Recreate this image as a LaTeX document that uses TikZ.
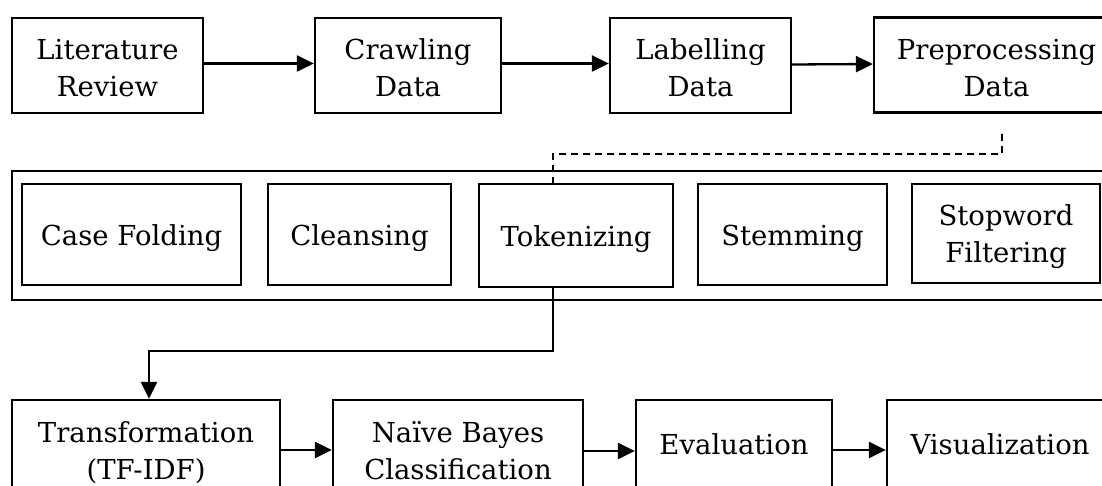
\documentclass[tikz,border=0pt]{standalone}
\usepackage{fontspec}
\newfontfamily\boxfont{DejaVu Serif}
\usetikzlibrary{arrows.meta}
% invisible strut: height #1 above and depth #2 below the baseline
\newcommand\boxstrut[2]{\rule[-#2]{0pt}{\dimexpr #1+#2\relax}}
\tikzset{
  box/.style={draw, line width=2.3pt, rectangle, inner sep=0pt, align=center,
              font=\boxfont\fontsize{27.5}{37}\selectfont},
  frame/.style={draw, line width=2.3pt, rectangle, inner sep=0pt},
  link/.style={line width=2.3pt, -{Triangle[length=17pt,width=16pt]}},
  dashlink/.style={line width=1.4pt, dash pattern=on 7pt off 5pt},
}
\begin{document}
\begin{tikzpicture}[x=1pt, y=-1pt]
\useasboundingbox (0,0) rectangle (1102,486);
\clip (0,0) rectangle (1102,486);

% top row
\node[box, minimum width=191pt, minimum height=95pt] (lit)   at (107.5,65.5)
  {\boxstrut{30pt}{0pt}Literature\\Review\boxstrut{0pt}{4pt}};
\node[box, minimum width=186pt, minimum height=95pt] (crawl) at (408,65.5)
  {\boxstrut{30pt}{0pt}Crawling\\Data\boxstrut{0pt}{4pt}};
\node[box, minimum width=181pt, minimum height=95pt] (lab)   at (700.5,65.5)
  {\boxstrut{30pt}{0pt}Labelling\\Data\boxstrut{0pt}{4pt}};
\node[box, minimum width=245pt, minimum height=95pt] (pre)   at (996.5,65)
  {\boxstrut{30pt}{0pt}Preprocessing\\Data\boxstrut{0pt}{4pt}};

\draw[link] ([yshift=2pt]lit.east)   -- ([yshift=2pt]crawl.west);
\draw[link] ([yshift=2pt]crawl.east) -- ([yshift=2pt]lab.west);
\draw[link] ([yshift=1pt]lab.east)   -- ([yshift=1pt]pre.west);

% preprocessing steps inside one frame
\node[frame, minimum width=1118pt, minimum height=129pt] (steps) at (571,235.5) {};
\node[box, minimum width=219pt, minimum height=101pt] (cf)   at (131.5,234.5)
  {\boxstrut{30pt}{7pt}Case Folding};
\node[box, minimum width=183pt, minimum height=101pt] (cl)   at (359.5,234.5)
  {\boxstrut{30pt}{7pt}Cleansing};
\node[box, minimum width=194pt, minimum height=103pt] (tok)  at (576,235.5)
  {\boxstrut{30pt}{8pt}Tokenizing};
\node[box, minimum width=189pt, minimum height=101pt] (stem) at (792.5,234.5)
  {\boxstrut{30pt}{7pt}Stemming};
\node[box, minimum width=188.5pt, minimum height=99pt] (stop) at (1006,233.5)
  {\boxstrut{30pt}{0pt}Stopword\\Filtering\boxstrut{0pt}{10pt}};

% dashed lead from the preprocessing stage to its steps
\coordinate (tap)    at (553,0);
\coordinate (dstart) at (1002,134);
\draw[dashlink] (dstart) -- ++(0,20) -| ([yshift=-5pt]tok.north -| tap);

% bottom row
\node[box, minimum width=268pt, minimum height=94pt] (tf)   at (146,447)
  {\boxstrut{34pt}{0pt}Transformation\\(TF-IDF)\boxstrut{0pt}{7pt}};
\node[box, minimum width=250pt, minimum height=94pt] (nb)   at (458,447)
  {\boxstrut{34pt}{0pt}Naïve Bayes\\Classification\boxstrut{0pt}{7pt}};
\node[box, minimum width=196pt, minimum height=94pt] (ev)   at (734,447)
  {\boxstrut{30pt}{16pt}Evaluation};
\node[box, minimum width=226pt, minimum height=94pt] (vis)  at (1000,447)
  {\boxstrut{30pt}{16pt}Visualization};

\coordinate (tfin) at (149,0);
\draw[link] (tok.south -| tap) -- ++(0,63) -| (tf.north -| tfin);

\draw[link] ([yshift=-3pt]tf.east) -- ([yshift=-3pt]nb.west);
\draw[link] ([yshift=-4pt]nb.east) -- ([yshift=-4pt]ev.west);
\draw[link] ([yshift=-3pt]ev.east) -- ([yshift=-3pt]vis.west);
\end{tikzpicture}
\end{document}
